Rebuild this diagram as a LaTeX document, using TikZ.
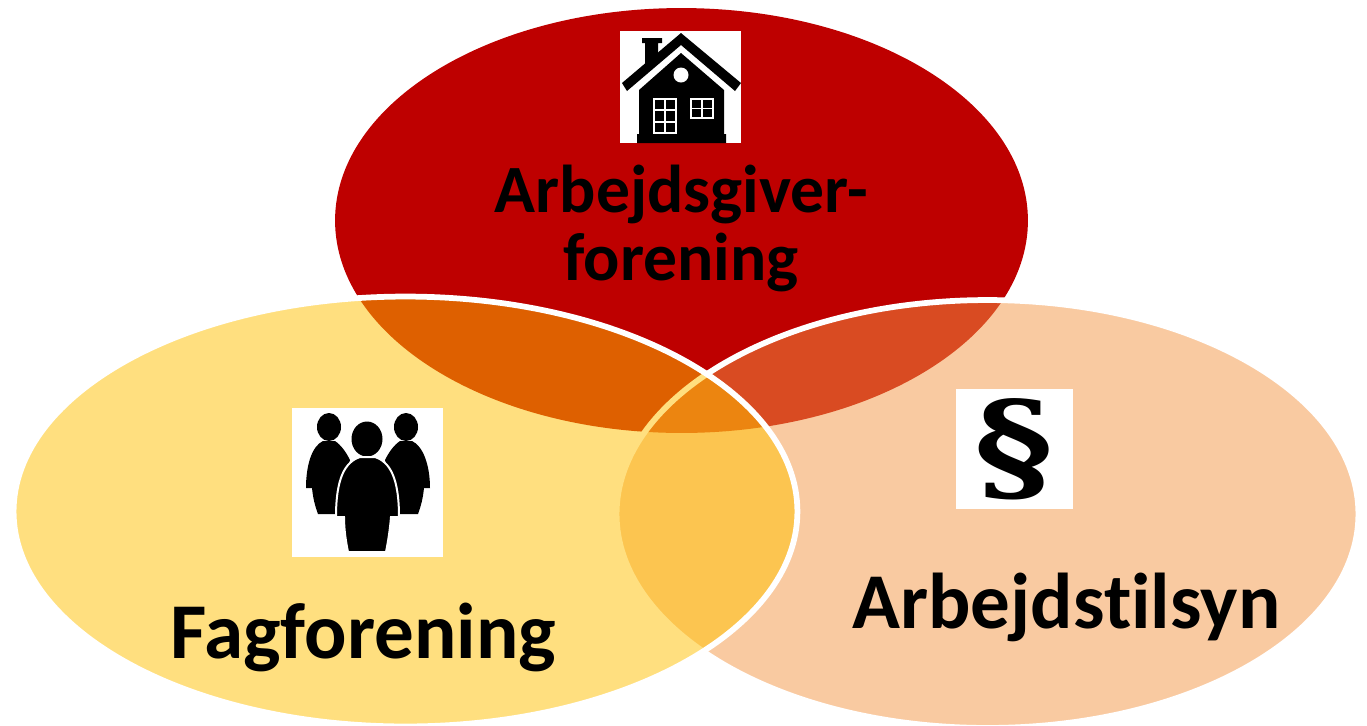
\documentclass[tikz,border=0pt]{standalone}
\usepackage{fontspec}
\setmainfont[Ligatures=CommonOff]{Carlito}
\newfontfamily\paragraphfont{DejaVu Serif}
\usetikzlibrary{shapes.geometric}
\definecolor{redcircle}{HTML}{BE0000}
\definecolor{goldcircle}{HTML}{FFC000}
\definecolor{peachcircle}{HTML}{F49644}

\begin{document}
\begin{tikzpicture}[x=0.02cm, y=-0.02cm,
	circ/.style = {ellipse, inner sep=0pt, outer sep=0pt},
	overlap/.style = {circ, draw=white, line width=0.115cm, fill opacity=0.5},
	label/.style = {font=\fontsize{45}{45}\selectfont\bfseries, anchor=base, inner sep=0pt},
	toplabel/.style = {label, font=\fontsize{38.5}{38.5}\selectfont\bfseries},
	iconbox/.style = {fill=white, inner sep=0pt, outer sep=0pt},
	pane/.style = {draw=white, line width=0.035cm}]
	\useasboundingbox (0,0) rectangle (1367,725);

	\node[circ, fill=redcircle, minimum width=13.86cm, minimum height=8.5cm] (employer) at (681.5,220.5) {};
	\node[overlap, fill=peachcircle, minimum width=14.84cm, minimum height=8.56cm] (inspect) at (987.5,514) {};
	\node[overlap, fill=goldcircle, minimum width=15.68cm, minimum height=8.6cm] (union) at (405.5,511.5) {};

	% house
	\node[iconbox, minimum width=2.42cm, minimum height=2.24cm] (housebox) at (680.5,87) {};
	\fill (642,38) -- (662,38) -- (662,43) -- (658,43) -- (658,53) -- (645,66) -- (645,43) -- (642,43) -- cycle;
	\fill (622,83) -- (681,33) -- (741,83) -- (735,91) -- (681,45) -- (627,91) -- cycle;
	\fill (681,53) -- (724,90) -- (724,134) -- (726,134) -- (726,143) -- (637,143) -- (637,134) -- (639,134) -- (639,90) -- cycle;
	\fill[white] (681,75) circle [radius=7.5];
	\draw[pane] (654,99) rectangle (676,133) (665,99) -- (665,133) (654,110) -- (676,110) (654,122) -- (676,122);
	\draw[pane] (691,99) rectangle (713,118) (702,99) -- (702,118) (691,108.5) -- (713,108.5);

	% people
	\node[iconbox, minimum width=3.02cm, minimum height=2.98cm] (peoplebox) at (367.5,482.5) {};
	\fill (329,427) ellipse [x radius=12, y radius=14];
	\fill (406,427) ellipse [x radius=12, y radius=14];
	\fill (323,441) .. controls (312,446) and (306,465) .. (306,488) -- (312,488) .. controls (313,498) and (315,506) .. (318,514) -- (336,514) -- (350,460) .. controls (346,452) and (341,445) .. (335,441) -- cycle;
	\fill (412,441) .. controls (423,446) and (430,465) .. (430,488) -- (424,488) .. controls (423,498) and (421,506) .. (418,514) -- (400,514) -- (385,460) .. controls (389,452) and (394,445) .. (400,441) -- cycle;
	\fill (367,439) ellipse [x radius=15.5, y radius=17.5];
	\filldraw[draw=white, line width=0.04cm] (360,457) .. controls (345,462) and (336,478) .. (336,517) -- (344,517) .. controls (344,530) and (346,542) .. (348,552) -- (386,552) .. controls (388,542) and (390,530) .. (391,517) -- (399,517) .. controls (399,478) and (390,462) .. (375,457) -- cycle;

	% paragraph sign
	\node[iconbox, minimum width=2.34cm, minimum height=2.4cm, font=\paragraphfont\bfseries\fontsize{69}{69}\selectfont] (lawbox) at (1014.5,449) {\scalebox{1.25}[1]{§}};

	\node[toplabel] (employertop) at (681.5,212) {Arbejdsgiver-};
	\node[toplabel] (employerbottom) at (681,280) {forening};
	\node[label] (unionlabel) at (363,658) {Fagforening};
	\node[label] (inspectlabel) at (1066.5,628) {Arbejdstilsyn};
\end{tikzpicture}
\end{document}
